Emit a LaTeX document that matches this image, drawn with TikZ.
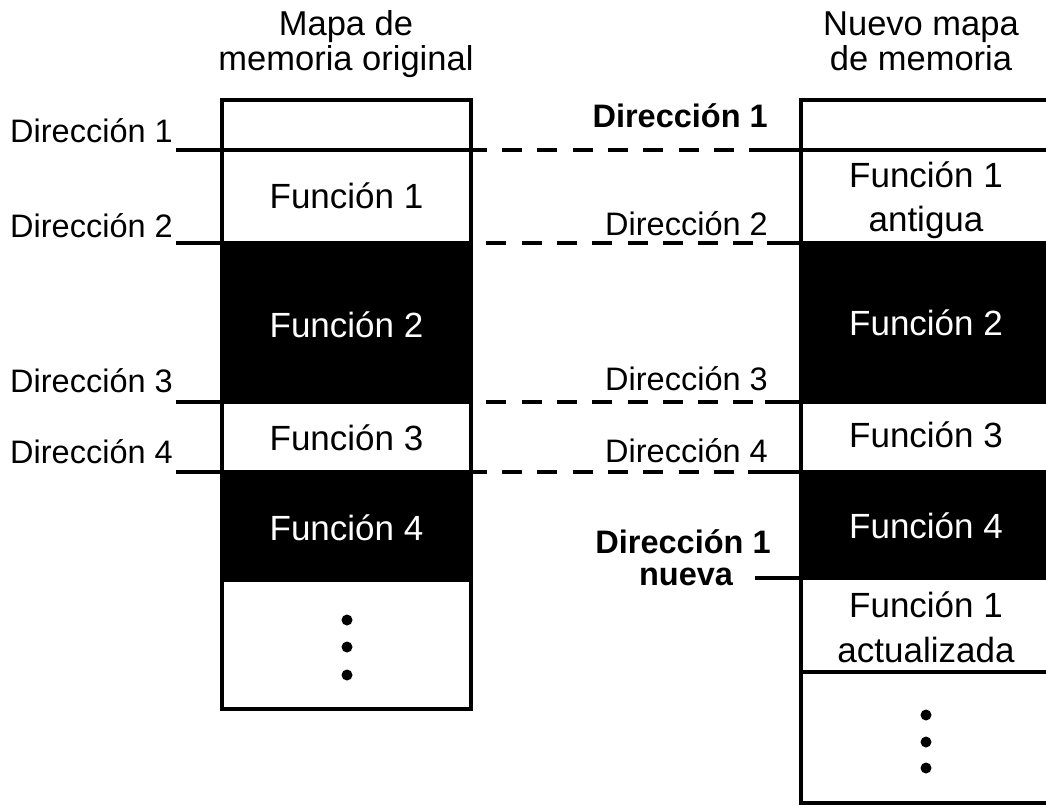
\documentclass[tikz,border=0pt]{standalone}
\usepackage{fontspec}
\setmainfont{Liberation Sans}
\begin{document}
\begin{tikzpicture}[x=1pt, y=-1pt]
\tikzset{
  cell/.style={draw=black, line width=3.5pt, anchor=north west, inner sep=0pt, outer sep=0pt},
  white cell/.style={cell, fill=white},
  black cell/.style={cell, fill=black},
  addr/.style={line width=4.8pt},
  gapline/.style={line width=4.8pt, dash pattern=on 20pt off 15.3pt},
  lbl/.style={font=\fontsize{32.5}{38}\selectfont, inner sep=0pt, anchor=base},
  ttl/.style={font=\fontsize{34.5}{40}\selectfont, inner sep=0pt, anchor=base},
  fn/.style={font=\fontsize{35}{42}\selectfont, inner sep=0pt, anchor=base},
  dot/.style={circle, fill=black, inner sep=0pt, minimum size=11pt},
}
\useasboundingbox (0,0) rectangle (1046,805);
\clip (0,0) rectangle (1046,805);

% original memory map
\node[white cell, minimum width=249pt, minimum height=50pt]  (L0) at (222,100) {};
\node[white cell, minimum width=249pt, minimum height=93pt]  (L1) at (222,150) {};
\node[black cell, minimum width=249pt, minimum height=159pt] (L2) at (222,243) {};
\node[white cell, minimum width=249pt, minimum height=70pt]  (L3) at (222,402) {};
\node[black cell, minimum width=249pt, minimum height=108pt] (L4) at (222,472) {};
\node[white cell, minimum width=249pt, minimum height=129pt] (L5) at (222,580) {};

% new memory map
\node[white cell, minimum width=250pt, minimum height=50pt]  (R0) at (801,100) {};
\node[white cell, minimum width=250pt, minimum height=93pt]  (R1) at (801,150) {};
\node[black cell, minimum width=250pt, minimum height=159pt] (R2) at (801,243) {};
\node[white cell, minimum width=250pt, minimum height=70pt]  (R3) at (801,402) {};
\node[black cell, minimum width=250pt, minimum height=106pt] (R4) at (801,472) {};
\node[white cell, minimum width=250pt, minimum height=94pt]  (R5) at (801,578) {};
\node[white cell, minimum width=250pt, minimum height=131pt] (R6) at (801,672) {};

% titles
\node[ttl] (t1a) at (346,36) {Mapa de};
\node[ttl] (t1b) at (346,71) {memoria original};
\node[ttl] (t2a) at (921,36) {Nuevo mapa};
\node[ttl] (t2b) at (921,71) {de memoria};

% address lines
\coordinate (la1) at (176,150);
\coordinate (la2) at (176,243);
\coordinate (la3) at (176,402);
\coordinate (la4) at (176,472);
\coordinate (rs1) at (749,150);
\coordinate (rs2) at (767,243);
\coordinate (rs3) at (765,402);
\coordinate (rs4) at (748,472);
\coordinate (rn)  at (755,578);

\draw[addr] (la1) -- (L1.north east);
\draw[addr] (la2) -- (L2.north east);
\draw[addr] (la3) -- (L3.north east);
\draw[addr] (la4) -- (L4.north east);

\draw[gapline, dash phase=4.3pt] (L1.north east) -- (rs1);
\draw[gapline, dash phase=20pt]  (L2.north east) -- (rs2);
\draw[gapline, dash phase=20pt]  (L3.north east) -- (rs3);
\draw[gapline, dash phase=4.3pt] (L4.north east) -- (rs4);

\draw[addr] (rs1) -- (R1.north west) -- (R1.north east);
\draw[addr] (rs2) -- (R2.north west);
\draw[addr] (rs3) -- (R3.north west);
\draw[addr] (rs4) -- (R4.north west);
\draw[addr] (rn) -- (R5.north west);

% address labels, left
\node[lbl, anchor=base east] (a1) at (173,143) {Dirección 1};
\node[lbl, anchor=base east] (a2) at (173,237) {Dirección 2};
\node[lbl, anchor=base east] (a3) at (173,392) {Dirección 3};
\node[lbl, anchor=base east] (a4) at (173,463) {Dirección 4};

% address labels, right
\node[lbl, anchor=base east, font=\fontsize{32.5}{38}\selectfont\bfseries] (b1) at (768,128) {Dirección 1};
\node[lbl, anchor=base east] (b2) at (768,235) {Dirección 2};
\node[lbl, anchor=base east] (b3) at (768,390) {Dirección 3};
\node[lbl, anchor=base east] (b4) at (768,462) {Dirección 4};
\node[lbl, font=\fontsize{32.5}{38}\selectfont\bfseries] (bn1) at (683,553) {Dirección 1};
\node[lbl, font=\fontsize{32.5}{38}\selectfont\bfseries] (bn2) at (686,585) {nueva};

% function names, left
\node[fn] (f1) at (346.5,208) {Función 1};
\node[fn, text=white] (f2) at (346.5,337) {Función 2};
\node[fn] (f3) at (346.5,450) {Función 3};
\node[fn, text=white] (f4) at (346.5,540) {Función 4};

% function names, right
\node[fn] (g1a) at (926,187) {Función 1};
\node[fn] (g1b) at (926,231) {antigua};
\node[fn, text=white] (g2) at (926,335) {Función 2};
\node[fn] (g3) at (926,447) {Función 3};
\node[fn, text=white] (g4) at (926,538) {Función 4};
\node[fn] (g5a) at (926,617) {Función 1};
\node[fn] (g5b) at (926,662) {actualizada};

% continuation dots
\node[dot] (d1) at (347,620) {};
\node[dot] (d2) at (347,647) {};
\node[dot] (d3) at (347,675) {};
\node[dot] (e1) at (926,715) {};
\node[dot] (e2) at (926,742) {};
\node[dot] (e3) at (926,768) {};
\end{tikzpicture}
\end{document}
